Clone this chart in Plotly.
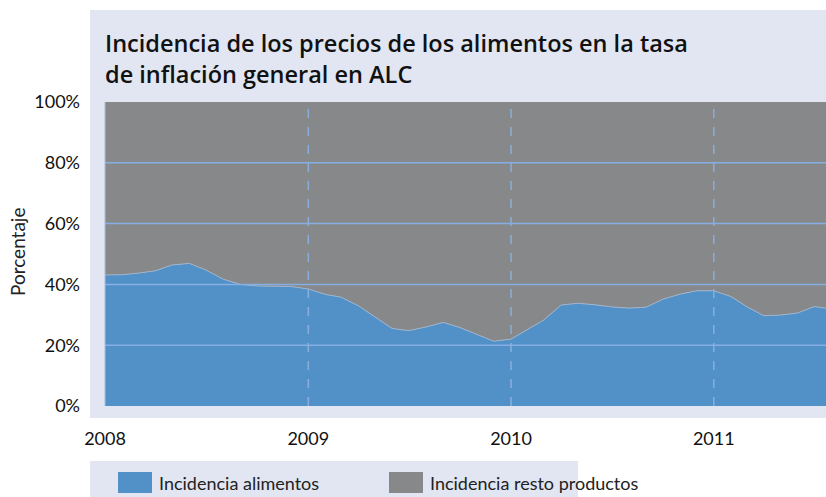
import pandas as pd
import plotly.graph_objects as go

# ---- data ----
dates = pd.date_range("2008-01-01", periods=44, freq="MS")
food = [43.1, 43.2, 43.7, 44.5, 46.4, 46.9, 44.7, 41.7, 40.0, 39.5, 39.4, 39.3,
        38.5, 36.7, 35.8, 33.0, 29.3, 25.5, 24.8, 26.0, 27.5, 25.8, 23.5, 21.3,
        22.0, 25.2, 28.3, 33.2, 33.8, 33.3, 32.6, 32.2, 32.5, 35.1, 36.8, 37.9,
        37.9, 36.0, 32.7, 29.7, 29.9, 30.6, 32.7, 31.9]
rest = [100 - v for v in food]
series_names = ["Incidencia alimentos", "Incidencia resto productos"]
series_colors = ["#5291C8", "#87888A"]
year_ticks = ["2008-01-01", "2009-01-01", "2010-01-01", "2011-01-01"]
year_labels = ["2008", "2009", "2010", "2011"]
y_ticks = [0, 20, 40, 60, 80, 100]
y_labels = ["0%", "20%", "40%", "60%", "80%", "100%"]
title_text = "Incidencia de los precios de los alimentos en la tasa<br>de inflación general en ALC"
y_title = "Porcentaje"

# ---- layout geometry (pixels) ----
W, H = 826, 497
L, R, T, B = 105, 0, 102, 91
PW, PH = W - L - R, H - T - B


def px_x(px):
    return (px - L) / PW


def px_y(py):
    return (H - B - py) / PH


FONT = "Lato"
fig = go.Figure()
fig.add_trace(go.Scatter(x=dates, y=food, name=series_names[0], stackgroup="one",
                         mode="lines", line=dict(color="#9FB4CC", width=1),
                         fillcolor=series_colors[0], showlegend=False, hoverinfo="skip"))
fig.add_trace(go.Scatter(x=dates, y=rest, name=series_names[1], stackgroup="one",
                         mode="lines", line=dict(color=series_colors[1], width=0),
                         fillcolor=series_colors[1], showlegend=False, hoverinfo="skip"))

shapes = []
# panel backgrounds
shapes.append(dict(type="rect", xref="paper", yref="paper", x0=px_x(90), x1=1,
                   y0=px_y(418), y1=px_y(10), fillcolor="#E1E6F2", line_width=0, layer="below"))
shapes.append(dict(type="rect", xref="paper", yref="paper", x0=px_x(90), x1=px_x(578),
                   y0=px_y(497), y1=px_y(461), fillcolor="#E1E6F2", line_width=0, layer="below"))
# horizontal grid lines over the areas
for v in y_ticks[1:-1]:
    shapes.append(dict(type="line", xref="paper", yref="y", x0=0, x1=1, y0=v, y1=v,
                       line=dict(color="#86AEE2", width=1.5), layer="above"))
# vertical dashed year lines
for d in year_ticks[1:]:
    shapes.append(dict(type="line", xref="x", yref="paper", x0=d, x1=d, y0=0, y1=1,
                       line=dict(color="#8AAEDC", width=1.5, dash="dash"), layer="above"))
# left edge line
shapes.append(dict(type="line", xref="paper", yref="paper", x0=0, x1=0, y0=0, y1=1,
                   line=dict(color="#A9BCD6", width=1), layer="above"))

# legend swatches
leg_x = [118, 389]
for i, (nm, col) in enumerate(zip(series_names, series_colors)):
    shapes.append(dict(type="rect", xref="paper", yref="paper", x0=px_x(leg_x[i]),
                       x1=px_x(leg_x[i] + 34), y0=px_y(493), y1=px_y(472),
                       fillcolor=col, line_width=0))

annotations = []
for i, nm in enumerate(series_names):
    annotations.append(dict(text=nm, xref="paper", yref="paper", x=px_x(leg_x[i] + 39),
                            y=px_y(482.5), xanchor="left", yanchor="middle", showarrow=False,
                            font=dict(family=FONT, size=18, color="#222222")))
annotations.append(dict(text=title_text, xref="paper", yref="paper", x=px_x(103),
                        y=px_y(25), xanchor="left", yanchor="top", align="left",
                        showarrow=False,
                        font=dict(family="Open Sans", size=23.5, color="#111111", weight=600)))
annotations.append(dict(text=y_title, xref="paper", yref="paper", x=px_x(17),
                        y=px_y(252), xanchor="center", yanchor="middle", textangle=-90,
                        showarrow=False, font=dict(family=FONT, size=19, color="#222222")))

fig.update_layout(
    width=W, height=H,
    margin=dict(l=L, r=R, t=T, b=B, pad=0),
    paper_bgcolor="white", plot_bgcolor="white",
    shapes=shapes, annotations=annotations,
    font=dict(family=FONT, size=17, color="#222222"),
    hovermode=False,
    xaxis=dict(type="date", range=["2008-01-01", "2011-07-22"], tickvals=year_ticks,
               ticktext=year_labels, showgrid=False, zeroline=False, showline=False,
               ticks="", ticklabelstandoff=20, tickfont=dict(size=18, color="#111111")),
    yaxis=dict(range=[0, 100], tickvals=y_ticks, ticktext=y_labels, showgrid=False,
               zeroline=False, showline=False, ticks="", ticklabelstandoff=24,
               tickfont=dict(size=18, color="#111111")),
)
fig.write_html("out.html", config={"displayModeBar": False},
               post_script="document.body.style.margin='0';document.body.style.overflow='hidden';")
